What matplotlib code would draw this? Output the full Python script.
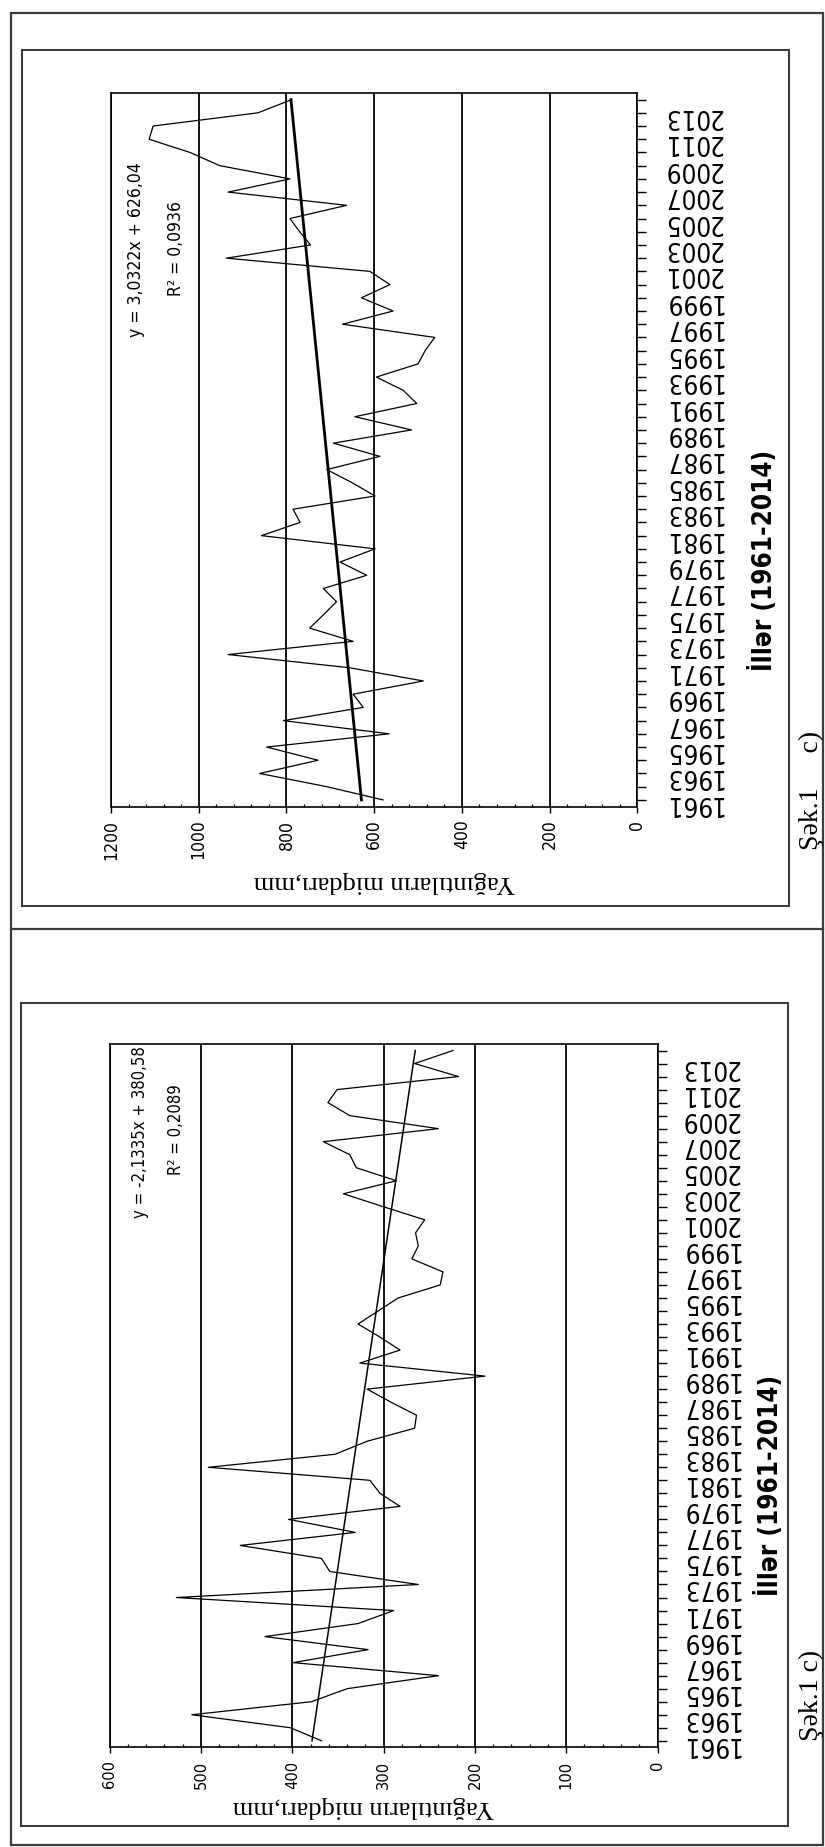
import numpy as np
import matplotlib
matplotlib.use("Agg")
import matplotlib.pyplot as plt
from matplotlib import font_manager as fm
from matplotlib.lines import Line2D
from matplotlib.patches import Rectangle
from matplotlib.ticker import MultipleLocator

W, H = 825, 1847

years = list(range(1961, 2015))

# annual precipitation, mm (upper panel, 0-1200 scale)
yagis_1 = [580, 708, 861, 728, 845, 566, 807, 625, 648, 488,
           656, 933, 648, 747, 716, 686, 716, 617, 678, 598,
           857, 769, 785, 598, 650, 708, 587, 693, 515, 644,
           503, 534, 595, 500, 484, 462, 672, 557, 629, 564,
           610, 937, 745, 770, 792, 663, 933, 792, 952, 1020,
           1113, 1104, 865, 788]
trend_1 = (3.0322, 626.04)
r2_1 = "0,0936"

# annual precipitation, mm (lower panel, 0-600 scale)
yagis_2 = [368, 402, 510, 379, 340, 240, 399, 317, 430, 328,
           289, 527, 262, 359, 368, 457, 331, 404, 282, 304,
           315, 492, 353, 318, 266, 264, 292, 318, 189, 326,
           282, 304, 328, 306, 284, 238, 235, 269, 262, 265,
           255, 300, 344, 286, 330, 337, 366, 240, 337, 361,
           351, 218, 266, 224]
trend_2 = (-2.1335, 380.58)
r2_2 = "0,2089"

ax_title = "Yağıntıların miqdarı,mm"
illər = "İllər (1961-2014)"

SERIF = ["Liberation Serif", "DejaVu Serif"]
FRAME = "#3c3c3c"


# a condensed sans face if the system has one, plain Liberation Sans otherwise
def pick_narrow(bold=False):
    want = 700 if bold else 400
    for f in fm.fontManager.ttflist:
        if f.stretch in ("condensed", "semi-condensed", "extra-condensed") \
                and f.style == "normal" and abs(int(f.weight) - want) < 150:
            if "Sans" in f.name or "Narrow" in f.name:
                return fm.FontProperties(fname=f.fname), 1.2
    return fm.FontProperties(family=["Liberation Sans", "DejaVu Sans"],
                             weight="bold" if bold else "normal"), 1.0


NARROW, KN = pick_narrow()
NARROW_B, KB = pick_narrow(bold=True)


def fp(base, size):
    p = base.copy()
    p.set_size(size)
    return p


fig = plt.figure(figsize=(W / 100, H / 100), dpi=100)


def fx(x):
    return x / W


def fy(y):
    return 1 - y / H


def rect(x0, y0, x1, y1, lw=1.5):
    fig.add_artist(Rectangle((fx(x0), fy(y1)), fx(x1) - fx(x0), fy(y0) - fy(y1),
                             transform=fig.transFigure, fill=False, lw=lw, ec=FRAME))


def hline(x0, x1, y, lw=1.5):
    fig.add_artist(Line2D([fx(x0), fx(x1)], [fy(y), fy(y)],
                          transform=fig.transFigure, lw=lw, color=FRAME))


def txt(x, y, s, **kw):
    fig.text(fx(x), fy(y), s, ha="center", va="center", **kw)


def num(v, nd):
    return ("%.*f" % (nd, v)).replace(".", ",")


def panel(box, plot, vmax, step, vals, trend, r2, trend_lw, eq_xy, r2_xy, eq_size,
          title_xy, ill_xy, sek_xy, sek, ypad, xsize):
    rect(*box)
    left, top, right, bottom = plot
    ax = fig.add_axes([fx(left), fy(bottom), fx(right) - fx(left), fy(top) - fy(bottom)])
    k, b = trend
    idx = np.arange(1, len(years) + 1)
    ax.plot(vals, years, color="black", lw=0.9, zorder=3)
    ax.plot(k * idx + b, years, color="black", lw=trend_lw, zorder=4)

    ax.set_xlim(vmax, 0)
    ax.set_ylim(1960.5, 2014.5)
    ax.xaxis.set_major_locator(MultipleLocator(step))
    ax.xaxis.set_minor_locator(MultipleLocator(step / 5))
    ax.grid(axis="x", which="major", color="black", lw=1.3)
    ax.set_axisbelow(True)

    ax.yaxis.tick_right()
    ax.set_yticks(years)
    ax.set_yticklabels([str(y) if y % 2 else "" for y in years])
    for sp in ax.spines.values():
        sp.set_linewidth(1.2)

    ax.tick_params(axis="x", which="major", direction="out", length=4.5, width=1.0,
                   labelrotation=90, pad=5)
    ax.tick_params(axis="x", which="minor", direction="in", length=2.2, width=0.9)
    ax.tick_params(axis="y", which="major", direction="out", length=6.5, width=1.0,
                   labelrotation=180, pad=ypad)
    for lab in ax.get_xticklabels():
        lab.set_fontproperties(fp(NARROW, xsize * KN))
    for lab in ax.get_yticklabels():
        lab.set_fontproperties(fp(NARROW, 15.5 * KN))

    sign = "-" if k < 0 else ""
    eq = "y = %s%sx + %s" % (sign, num(abs(k), 4), num(b, 2))
    txt(*eq_xy, eq, rotation=90, fontproperties=fp(NARROW, eq_size * KN))
    txt(*r2_xy, "R² = " + r2, rotation=90, fontproperties=fp(NARROW, eq_size * KN))
    txt(*title_xy, ax_title, rotation=180, family=SERIF, fontsize=19)
    txt(*ill_xy, illər, rotation=90, fontproperties=fp(NARROW_B, 15.5 * KB))
    txt(*sek_xy, sek, rotation=90, family=SERIF, fontsize=20)
    return ax


# outer frame and divider
rect(10.5, 13, 823, 1845, lw=1.6)
hline(10.5, 823, 929, lw=1.6)

panel(box=(22, 50, 789, 906), plot=(111, 93, 637.4, 806.5), vmax=1200, step=200,
      vals=yagis_1, trend=trend_1, r2=r2_1, trend_lw=2.0,
      eq_xy=(136, 250), r2_xy=(176, 248), eq_size=10.5,
      title_xy=(384, 882), ill_xy=(763, 560), sek_xy=(811, 790),
      sek="Şək.1     c)", ypad=12, xsize=10.5)

panel(box=(21, 1003, 788, 1826), plot=(109.7, 1044, 657.5, 1747.3), vmax=600, step=100,
      vals=yagis_2, trend=trend_2, r2=r2_2, trend_lw=1.1,
      eq_xy=(140, 1132), r2_xy=(176, 1130), eq_size=10,
      title_xy=(363, 1807), ill_xy=(770, 1485), sek_xy=(811, 1695),
      sek="Şək.1 c)", ypad=10, xsize=9.8)

fig.savefig("out.png", dpi=100)
